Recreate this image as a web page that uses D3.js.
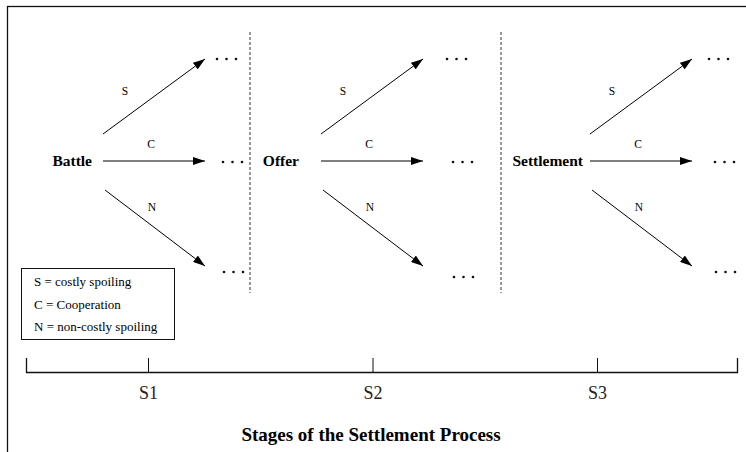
<!DOCTYPE html>
<html>
<head>
<meta charset="utf-8">
<script src="https://cdn.jsdelivr.net/npm/d3@7"></script>
<style>
  body { margin: 0; background: #fff; }
  svg { display: block; font-family: "Liberation Serif", "Times New Roman", serif; }
</style>
</head>
<body>
<div id="chart"></div>
<script>
/* Data */
var stages      = ["Battle", "Offer", "Settlement"];
var stageTicks  = ["S1", "S2", "S3"];
var moves       = ["S", "C", "N"];
var moveValues  = [1, 0, -1];          // S goes up, C straight, N down
var legendLines = ["S = costly spoiling", "C = Cooperation", "N = non-costly spoiling"];
var axisTitle   = "Stages of the Settlement Process";

/* Layout */
var width = 746, height = 452;
var nodeOffset  = [-45, -51.5, -7];    // arrow start relative to stage tick
var labelGap    = [11, 22, 7];         // space between node label and arrows
var dotGap      = [0, 12, 5];          // extra space before the "..." per stage
var dividerOffs = [102, 128.5];        // dashed separators relative to stage tick
var arrowLength = 102;
var axisY = 372;

var svg = d3.select("#chart")
    .append("svg")
        .attr("width", width)
        .attr("height", height);

/* Arrow head */
svg.append("defs").append("marker")
    .attr("id", "head")
    .attr("viewBox", "0 0 12 8")
    .attr("refX", 12)
    .attr("refY", 4)
    .attr("markerWidth", 12)
    .attr("markerHeight", 8)
    .attr("markerUnits", "userSpaceOnUse")
    .attr("orient", "auto")
  .append("path")
    .attr("d", "M0,0 L12,4 L0,8 Z")
    .attr("fill", "#000");

/* Frame (cut off at right and bottom) */
svg.append("rect")
    .attr("x", 7.5).attr("y", 6.5)
    .attr("width", 800).attr("height", 500)
    .attr("fill", "none")
    .attr("stroke", "#111")
    .attr("stroke-width", 1.3);

/* Scales */
var x = d3.scalePoint()
    .domain(stageTicks)
    .range([148, 597]);

var yStart = d3.scaleLinear().domain([-1, 0, 1]).range([190, 161, 134]);
var yEnd   = d3.scaleLinear().domain([-1, 0, 1]).range([266, 161, 59]);

var labelShift = {S: [-29, -6], C: [-3, -17], N: [-2, -21]};
var dotShift   = {S: [12, 0], C: [18, 1], N: [19, 6]};

/* Stage groups */
var stageG = svg.selectAll(".stage")
    .data(stages)
    .enter()
    .append("g")
        .attr("class", "stage")
        .attr("transform", function(d, i){
            return "translate(" + (x(stageTicks[i]) + nodeOffset[i]) + ",0)";
        });

stageG.append("text")
    .attr("x", function(d, i){ return -labelGap[i]; })
    .attr("y", yStart(0) + 5)
    .attr("text-anchor", "end")
    .attr("font-weight", "bold")
    .attr("font-size", 15.5)
    .text(function(d){ return d; });

var branch = stageG.selectAll(".branch")
    .data(function(d, i){
        return moves.map(function(m){ return {move: m, stage: i}; });
    })
    .enter()
    .append("g")
        .attr("class", "branch");

function val(m){ return moveValues[moves.indexOf(m)]; }

branch.append("line")
    .attr("x1", function(d){ return d.move === "N" ? 2 : 0; })
    .attr("y1", function(d){ return yStart(val(d.move)); })
    .attr("x2", arrowLength)
    .attr("y2", function(d){ return yEnd(val(d.move)); })
    .attr("stroke", "#000")
    .attr("stroke-width", 1)
    .attr("marker-end", "url(#head)");

branch.append("text")
    .attr("x", function(d){ return arrowLength / 2 + labelShift[d.move][0]; })
    .attr("y", function(d){
        return (yStart(val(d.move)) + yEnd(val(d.move))) / 2 + labelShift[d.move][1] + 4;
    })
    .attr("text-anchor", "middle")
    .attr("font-size", 11.5)
    .text(function(d){ return d.move; });

// trailing "..." after each branch
branch.selectAll(".dot")
    .data(function(d){
        return [0, 1, 2].map(function(k){ return {move: d.move, stage: d.stage, k: k}; });
    })
    .enter()
    .append("circle")
        .attr("class", "dot")
        .attr("cx", function(d){
            return arrowLength + dotShift[d.move][0] + dotGap[d.stage] + d.k * 9.5;
        })
        .attr("cy", function(d){
            return yEnd(val(d.move)) + dotShift[d.move][1] + (d.move === "N" && d.stage === 1 ? 5 : 0);
        })
        .attr("r", 1.3)
        .attr("fill", "#111");

/* Dashed separators */
svg.selectAll(".divider")
    .data(dividerOffs)
    .enter()
    .append("line")
        .attr("class", "divider")
        .attr("x1", function(d, i){ return x(stageTicks[i]) + d; })
        .attr("x2", function(d, i){ return x(stageTicks[i]) + d; })
        .attr("y1", 32)
        .attr("y2", 293)
        .attr("stroke", "#333")
        .attr("stroke-width", 1)
        .attr("stroke-dasharray", "3,2");

/* Legend */
var legend = svg.append("g").attr("transform", "translate(21,268)");
legend.append("rect")
    .attr("x", 0.5).attr("y", 0.5)
    .attr("width", 153).attr("height", 71)
    .attr("fill", "none")
    .attr("stroke", "#111")
    .attr("stroke-width", 1);
legend.selectAll("text")
    .data(legendLines)
    .enter()
    .append("text")
        .attr("x", 13)
        .attr("y", function(d, i){ return 18 + i * 22.5; })
        .attr("font-size", 13)
        .text(function(d){ return d; });

/* Stage axis */
var axis = d3.axisBottom(x)
    .tickSizeInner(-14)
    .tickSizeOuter(0)
    .tickPadding(14);

var axisG = svg.append("g")
    .attr("transform", "translate(0," + axisY + ")")
    .call(axis);
axisG.select(".domain").remove();
axisG.selectAll(".tick line").attr("stroke", "#111");
axisG.selectAll(".tick text")
    .attr("font-family", "Liberation Serif, Times New Roman, serif")
    .attr("font-size", 18)
    .attr("fill", "#222");

axisG.append("path")
    .attr("d", "M26.5,-14V0.5H737.5V-14")
    .attr("fill", "none")
    .attr("stroke", "#111")
    .attr("stroke-width", 1.3);

svg.append("text")
    .attr("x", 371)
    .attr("y", 441)
    .attr("text-anchor", "middle")
    .attr("font-weight", "bold")
    .attr("font-size", 19)
    .text(axisTitle);
</script>
</body>
</html>
